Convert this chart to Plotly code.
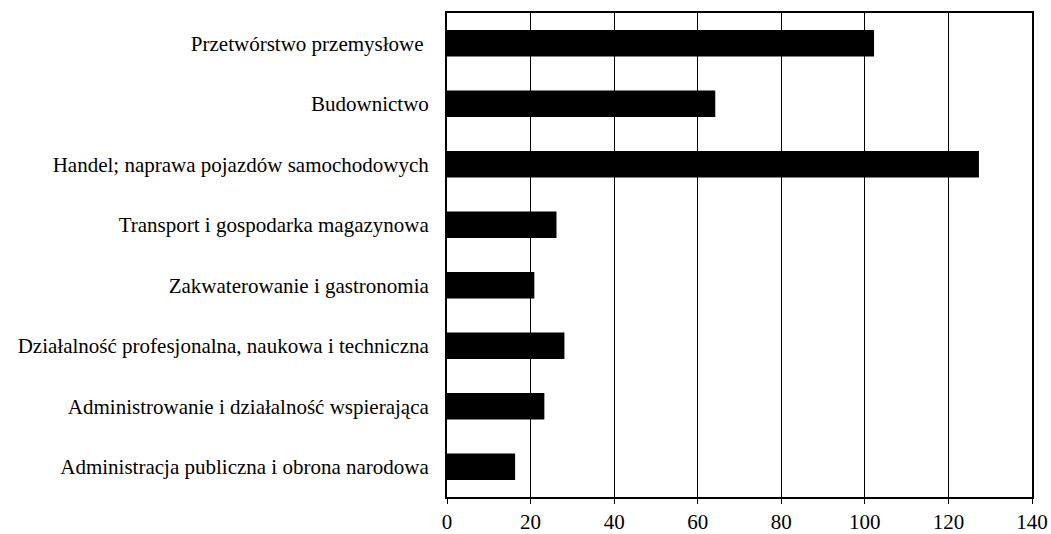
import plotly.graph_objects as go

categories = [
    "Przetwórstwo przemysłowe\u00a0",
    "Budownictwo",
    "Handel; naprawa pojazdów samochodowych",
    "Transport i gospodarka magazynowa",
    "Zakwaterowanie i gastronomia",
    "Działalność profesjonalna, naukowa i techniczna",
    "Administrowanie i działalność wspierająca",
    "Administracja publiczna i obrona narodowa",
]
values = [102.2, 64.2, 127.3, 26.2, 20.9, 28.1, 23.3, 16.3]
x_ticks = [0, 20, 40, 60, 80, 100, 120, 140]

fig = go.Figure(go.Bar(
    x=values, y=categories, orientation="h",
    marker=dict(color="black", line=dict(width=0)),
))

fig.update_layout(
    width=1051, height=534,
    margin=dict(l=447, r=19, t=13, b=37),
    paper_bgcolor="white", plot_bgcolor="white",
    bargap=0.56,
    showlegend=False,
    font=dict(family="Liberation Serif, Times New Roman, serif", size=21, color="black"),
)
fig.update_xaxes(
    range=[0, 140], tickvals=x_ticks, ticktext=[str(t) for t in x_ticks],
    showgrid=True, gridcolor="black", gridwidth=1,
    showline=True, linecolor="black", linewidth=2, mirror=True,
    ticks="outside", ticklen=5, tickcolor="black", tickwidth=1,
    zeroline=False, tickfont=dict(size=21), automargin=False,
)
fig.update_yaxes(
    autorange="reversed",
    showline=True, linecolor="black", linewidth=2, mirror=True,
    ticks="", showgrid=False, ticklabelstandoff=12,
    tickfont=dict(size=21), automargin=False,
)

fig.write_html(
    "out.html",
    config={"displayModeBar": False},
    post_script="document.body.style.margin='0';document.body.style.overflow='hidden';",
)
